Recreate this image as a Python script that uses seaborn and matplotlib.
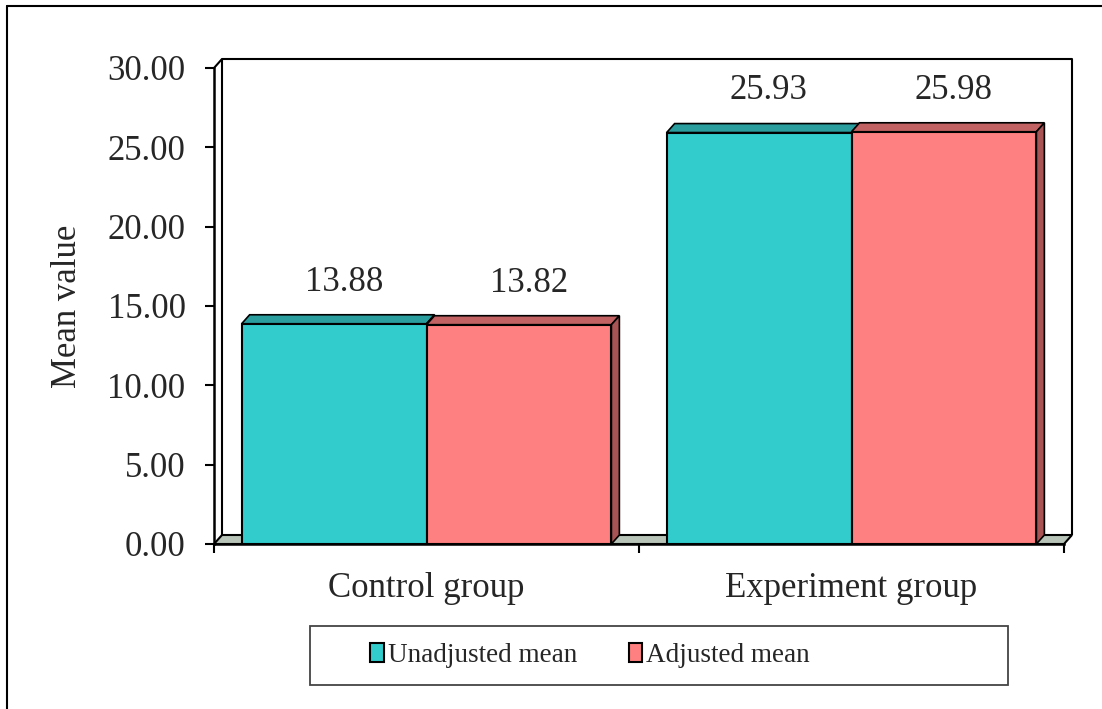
import pandas as pd
import seaborn as sns
import matplotlib.pyplot as plt
from matplotlib.patches import Polygon, Patch, Rectangle
from matplotlib.lines import Line2D

# Data
groups = ["Control group", "Experiment group"]
series = ["Unadjusted mean", "Adjusted mean"]
unadjusted = [13.88, 25.93]
adjusted = [13.82, 25.98]

df = pd.DataFrame({
    "group": groups * 2,
    "type": [series[0]] * len(groups) + [series[1]] * len(groups),
    "mean": unadjusted + adjusted,
})

# Colours (front, top, side)
FRONT = ["#33CCCC", "#FF8080"]
TOP = ["#2A9E9E", "#C26262"]
SIDE = ["#249090", "#A85454"]
FLOOR = "#B7C4B7"

sns.set_theme(style="white")
plt.rcParams["font.family"] = ["Liberation Serif", "DejaVu Serif"]
FS = 25

W, H = 1102, 709
fig = plt.figure(figsize=(W / 100, H / 100), dpi=100)
ax = fig.add_axes([214 / W, 1 - 544 / H, 850 / W, 476 / H])

sns.barplot(data=df, x="group", y="mean", hue="type", palette=FRONT,
            width=0.87, edgecolor="black", linewidth=1.5, saturation=1,
            ax=ax, zorder=3)
ax.get_legend().remove()

ax.set_xlim(-0.5, 1.5)
ax.set_ylim(0, 30)

# depth offset of the pseudo-3D look, converted from pixels to data units
dx = 8 / (850 / 2.0)
dy = 9 / (476 / 30.0)

# floor and back wall
ax.add_patch(Polygon([(-0.5, 0), (-0.5 + dx, dy), (1.5 + dx, dy), (1.5, 0)],
                     closed=True, facecolor=FLOOR, edgecolor="black",
                     linewidth=1.5, clip_on=False, zorder=1))
wall = dict(color="black", linewidth=1.5, clip_on=False, zorder=1,
            solid_capstyle="butt")
ax.plot([-0.5 + dx, -0.5 + dx, 1.5 + dx, 1.5 + dx],
        [dy, 30 + dy, 30 + dy, dy], **wall)
ax.plot([-0.5, -0.5 + dx], [30, 30 + dy], **wall)

# top and side faces of the bars, value labels
for i, cont in enumerate(ax.containers):
    for bar in cont:
        x0 = bar.get_x()
        x1 = x0 + bar.get_width()
        h = bar.get_height()
        ax.add_patch(Polygon([(x0, h), (x0 + dx, h + dy), (x1 + dx, h + dy), (x1, h)],
                             closed=True, facecolor=TOP[i], edgecolor="black",
                             linewidth=1.2, clip_on=False, zorder=2))
        ax.add_patch(Polygon([(x1, 0), (x1 + dx, dy), (x1 + dx, h + dy), (x1, h)],
                             closed=True, facecolor=SIDE[i], edgecolor="black",
                             linewidth=1.2, clip_on=False, zorder=2))
        ax.annotate(f"{h:.2f}", xy=((x0 + x1) / 2, h), xytext=(7, 30),
                    textcoords="offset points", ha="center", va="center",
                    fontsize=FS)

# axes styling
for s in ["top", "right"]:
    ax.spines[s].set_visible(False)
for s in ["left", "bottom"]:
    ax.spines[s].set_color("black")
    ax.spines[s].set_linewidth(1.8)
    ax.spines[s].set_zorder(4)

ax.set_yticks(range(0, 31, 5))
ax.set_yticklabels([f"{v:.2f}" for v in range(0, 31, 5)])
ax.tick_params(axis="y", which="major", direction="out", length=6.5, width=1.5,
               color="black", pad=14, labelsize=FS, left=True)
ax.set_xticks([0, 1])
ax.set_xticklabels(groups)
ax.set_xticks([-0.5, 0.5, 1.5], minor=True)
ax.tick_params(axis="x", which="major", length=0, pad=20, labelsize=FS)
ax.tick_params(axis="x", which="minor", direction="out", length=6.5, width=1.5,
               color="black", bottom=True)
ax.set_xlabel("")
ax.set_ylabel("Mean value", fontsize=FS)
ax.yaxis.set_label_coords(-0.153, 0.5)

# legend with a separate box
fig.add_artist(Rectangle((310 / W, 1 - 685 / H), 698 / W, 59 / H,
                         transform=fig.transFigure, facecolor="none",
                         edgecolor="#444444", linewidth=1.3))
handles = [Patch(facecolor=c, edgecolor="black", linewidth=1.5) for c in FRONT]
fig.legend(handles, series, loc="center left",
           bbox_to_anchor=(346 / W, 1 - 655 / H), ncol=2, frameon=False,
           fontsize=19.5, handlelength=0.5, handleheight=0.7,
           handletextpad=0.15, columnspacing=1.9)

# outer frame (top and left edges visible)
fig.add_artist(Line2D([7 / W, 7 / W], [0, 1 - 6 / H], transform=fig.transFigure,
                      color="black", linewidth=1.5))
fig.add_artist(Line2D([7 / W, 1], [1 - 6 / H, 1 - 6 / H], transform=fig.transFigure,
                      color="black", linewidth=1.5))

fig.savefig("out.png", dpi=100)
